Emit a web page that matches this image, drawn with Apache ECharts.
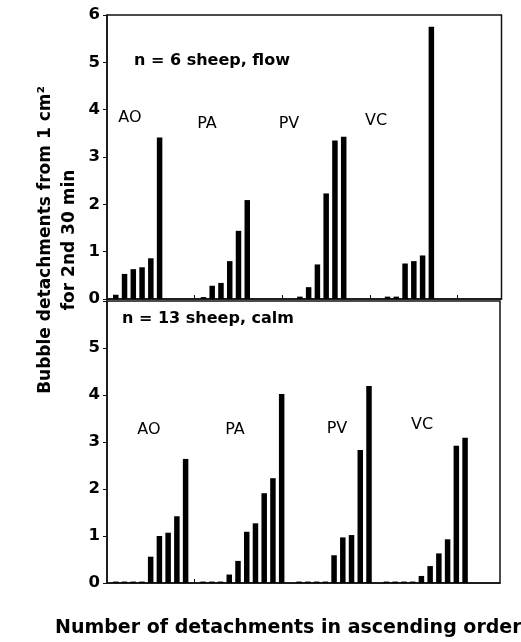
<!DOCTYPE html>
<html>
<head>
<meta charset="utf-8">
<script src="https://cdn.jsdelivr.net/npm/echarts@6/dist/echarts.min.js"></script>
<style>
  html, body { margin: 0; padding: 0; background: #fff; }
  #chart { width: 521px; height: 642px; }
</style>
</head>
<body>
<div id="chart"></div>
<script>
// vessel groups, each bar is one sheep sorted ascending
var groups = ['AO', 'PA', 'PV', 'VC']

// n = 6 sheep, flow
var flowAO = [0.09, 0.53, 0.63, 0.67, 0.86, 3.41]
var flowPA = [0.04, 0.28, 0.34, 0.80, 1.44, 2.09]
var flowPV = [0.05, 0.25, 0.73, 2.23, 3.35, 3.43]
var flowVC = [0.05, 0.05, 0.75, 0.80, 0.92, 5.75]

// n = 13 sheep, calm (zeros drawn as a thin stub like the original)
var calmAO = [0.03, 0.03, 0.03, 0.03, 0.56, 1.00, 1.07, 1.42, 2.64]
var calmPA = [0.03, 0.03, 0.03, 0.18, 0.47, 1.09, 1.27, 1.91, 2.23, 4.02]
var calmPV = [0.03, 0.03, 0.03, 0.03, 0.59, 0.97, 1.02, 2.83, 4.19]
var calmVC = [0.03, 0.03, 0.03, 0.03, 0.15, 0.36, 0.63, 0.93, 2.92, 3.09]

var yTicks = [0, 1, 2, 3, 4, 5, 6]

// slot layout of the x axis
var slotCount = 46
var groupStart = [1, 11, 22, 32]

function fillSlots(lists) {
  var out = []
  for (var i = 0; i < slotCount; i++) out.push(null)
  lists.forEach(function(vals, g) {
    vals.forEach(function(v, j) {
      out[groupStart[g] + j] = v
    })
  })
  return out
}

var slots = []
for (var i = 0; i < slotCount; i++) slots.push(String(i))

var font = 'DejaVu Sans, Verdana, sans-serif'

function xAxisFor(idx) {
  return {
    type: 'category',
    gridIndex: idx,
    data: slots,
    boundaryGap: false,
    axisLine: { lineStyle: { color: '#111', width: 1.5 } },
    axisTick: {
      inside: true,
      length: 4,
      lineStyle: { color: '#111', width: 1 },
      interval: function(i) { return i > 0 && i % 10 === 0 }
    },
    axisLabel: { show: false },
    splitLine: { show: false }
  }
}

function yAxisFor(idx) {
  return {
    type: 'value',
    gridIndex: idx,
    min: 0,
    max: 6,
    interval: 1,
    axisLine: { show: true, lineStyle: { color: '#111', width: 1.5 } },
    axisTick: { show: true, length: 4, lineStyle: { color: '#111' } },
    splitLine: { show: false },
    axisLabel: {
      color: '#000',
      fontFamily: font,
      fontWeight: 'bold',
      fontSize: 16.5,
      margin: 7,
      formatter: function(v) {
        if (idx === 1 && v === 6) return ''
        return yTicks.indexOf(v) >= 0 ? String(v) : ''
      }
    }
  }
}

function barSeries(idx, data) {
  return {
    type: 'bar',
    xAxisIndex: idx,
    yAxisIndex: idx,
    data: data,
    barWidth: 5.5,
    itemStyle: { color: '#000' },
    silent: true
  }
}

function label(text, x, y, opts) {
  return {
    type: 'text',
    x: x,
    y: y,
    style: Object.assign({
      text: text,
      fill: '#000',
      font: '16px ' + font,
      textAlign: 'center',
      textVerticalAlign: 'middle'
    }, opts || {})
  }
}

var chart = echarts.init(document.getElementById('chart'))
chart.setOption({
  animation: false,
  grid: [
    { left: 107, top: 15, width: 394.5, height: 284, show: true, borderColor: '#111', borderWidth: 1.5 },
    { left: 107, top: 301, width: 393, height: 282, show: true, borderColor: '#111', borderWidth: 1.5 }
  ],
  xAxis: [xAxisFor(0), xAxisFor(1)],
  yAxis: [yAxisFor(0), yAxisFor(1)],
  series: [
    barSeries(0, fillSlots([flowAO, flowPA, flowPV, flowVC])),
    barSeries(1, fillSlots([calmAO, calmPA, calmPV, calmVC]))
  ],
  graphic: [
    label('n = 6 sheep, flow', 212, 61, { font: 'bold 16px ' + font }),
    label('n = 13 sheep, calm', 208, 319, { font: 'bold 16px ' + font }),
    // group names, top panel
    label(groups[0], 130, 118),
    label(groups[1], 207, 124),
    label(groups[2], 289, 124),
    label(groups[3], 376, 121),
    // group names, bottom panel
    label(groups[0], 149, 430),
    label(groups[1], 235, 430),
    label(groups[2], 337, 429),
    label(groups[3], 422, 425),
    {
      type: 'text',
      x: 58,
      y: 240,
      rotation: Math.PI / 2,
      style: {
        text: 'Bubble detachments from 1 cm\u00b2\nfor 2nd 30 min',
        fill: '#000',
        font: 'bold 17px ' + font,
        lineHeight: 24,
        textAlign: 'center',
        textVerticalAlign: 'middle'
      }
    },
    label('Number of detachments in ascending order', 55, 628, {
      font: 'bold 19px ' + font,
      textAlign: 'left'
    })
  ]
})
</script>
</body>
</html>
